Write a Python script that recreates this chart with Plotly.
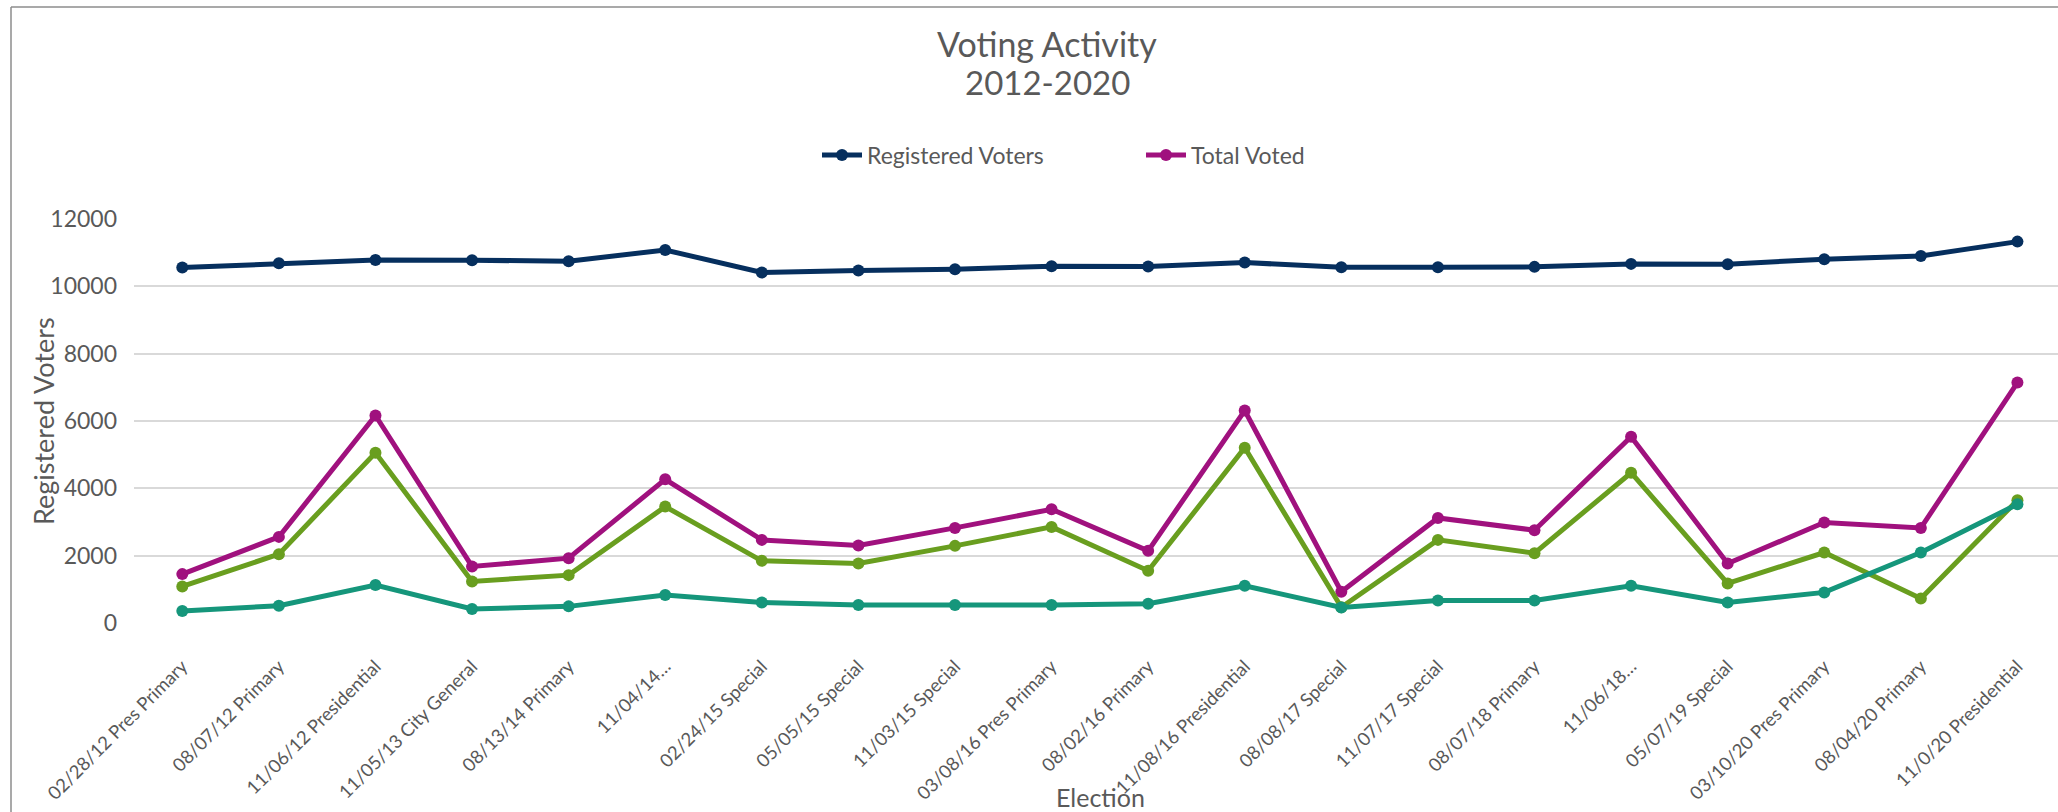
import plotly.graph_objects as go

categories = [
    "02/28/12 Pres Primary", "08/07/12 Primary", "11/06/12 Presidential",
    "11/05/13 City General", "08/13/14 Primary", "11/04/14…",
    "02/24/15 Special", "05/05/15 Special", "11/03/15 Special",
    "03/08/16 Pres Primary", "08/02/16 Primary", "11/08/16 Presidential",
    "08/08/17 Special", "11/07/17 Special", "08/07/18 Primary",
    "11/06/18…", "05/07/19 Special", "03/10/20 Pres Primary",
    "08/04/20 Primary", "11/0/20 Presidential",
]
registered_voters = [10557, 10687, 10785, 10775, 10746, 11080, 10410, 10469, 10509, 10598,
                     10588, 10706, 10568, 10568, 10578, 10667, 10657, 10805, 10904, 11328]
total_voted = [1452, 2558, 6163, 1679, 1926, 4267, 2469, 2301, 2825, 3378,
               2143, 6311, 930, 3121, 2756, 5531, 1768, 2983, 2825, 7141]
voted_in_person = [1086, 2044, 5057, 1235, 1422, 3457, 1847, 1768, 2291, 2854,
                   1551, 5205, 470, 2469, 2074, 4464, 1175, 2094, 731, 3645]
voted_absentee = [356, 514, 1126, 415, 494, 830, 612, 533, 533, 533,
                  573, 1106, 460, 671, 671, 1106, 612, 909, 2094, 3526]
y_ticks = [0, 2000, 4000, 6000, 8000, 10000, 12000]
y_tick_labels = ["0", "2000", "4000", "6000", "8000", "10000", "12000"]
title_lines = ["Voting Activity", "2012-2020"]

FONT = "Lato"
GRAY = "#595959"
W, H = 2058, 812
L, R_EDGE, T, B0 = 134, 2058, 219, 623  # plot area pixel bounds
PW, PH = R_EDGE - L, B0 - T

series = [
    ("Registered Voters", registered_voters, "#062F5E", True, "legend"),
    ("Total Voted", total_voted, "#A0117E", True, "legend2"),
    ("Voted In Person", voted_in_person, "#699E1F", False, "legend"),
    ("Voted Absentee", voted_absentee, "#15967B", False, "legend"),
]

fig = go.Figure()
for name, vals, color, show, lg in series:
    fig.add_trace(go.Scatter(
        x=list(range(len(categories))), y=vals, name=name, mode="lines+markers",
        line=dict(color=color, width=5),
        marker=dict(color=color, size=12, symbol="circle"),
        showlegend=show, legend=lg,
    ))

fig.update_layout(
    width=W, height=H,
    margin=dict(l=L, r=W - R_EDGE, t=T, b=H - B0, autoexpand=False),
    paper_bgcolor="white", plot_bgcolor="white",
    font=dict(family=FONT, color=GRAY, size=23),
    xaxis=dict(
        range=[-0.5, 19.42], tickmode="array", tickvals=list(range(len(categories))),
        ticktext=categories, tickangle=-45, showgrid=False, zeroline=False,
        showline=False, ticks="", ticklabelstandoff=28,
        tickfont=dict(family=FONT, size=18.5, color=GRAY),
    ),
    yaxis=dict(
        range=[0, 12000], tickmode="array", tickvals=y_ticks, ticktext=y_tick_labels,
        showgrid=True, gridcolor="#D9D9D9",
        gridwidth=1.5, zeroline=False, showline=False, ticks="",
        ticklabelstandoff=16, tickfont=dict(family=FONT, size=23, color=GRAY),
    ),
    legend=dict(orientation="h", xref="container", yref="container",
                x=817 / W, y=1 - 155 / H, xanchor="left", yanchor="middle",
                bgcolor="rgba(0,0,0,0)", font=dict(family=FONT, size=23, color=GRAY),
                itemwidth=40),
    legend2=dict(orientation="h", xref="container", yref="container",
                 x=1141 / W, y=1 - 155 / H, xanchor="left", yanchor="middle",
                 bgcolor="rgba(0,0,0,0)", font=dict(family=FONT, size=23, color=GRAY),
                 itemwidth=40),
    showlegend=True,
)

# title (two lines)
for line, yc, sz in zip(title_lines, [43, 82], [34, 33]):
    fig.add_annotation(text=line, xref="paper", yref="paper",
                       x=(1047 - L) / PW, y=(B0 - yc) / PH, showarrow=False,
                       xanchor="center", yanchor="middle",
                       font=dict(family=FONT, size=sz, color=GRAY))

# axis titles
fig.add_annotation(text="Registered Voters", xref="paper", yref="paper",
                   x=(43 - L) / PW, y=0.5, textangle=-90, showarrow=False,
                   xanchor="center", yanchor="middle",
                   font=dict(family=FONT, size=27, color=GRAY))
fig.add_annotation(text="Election", xref="paper", yref="paper",
                   x=(1100 - L) / PW, y=(B0 - 797) / PH, showarrow=False,
                   xanchor="center", yanchor="middle",
                   font=dict(family=FONT, size=25, color=GRAY))

# chart-area border (left and top visible)
bx = (11 - L) / PW
by = (B0 - 7) / PH
fig.add_shape(type="line", xref="paper", yref="paper", x0=bx, x1=bx, y0=-1, y1=by,
              line=dict(color="#8C8C8C", width=1.5))
fig.add_shape(type="line", xref="paper", yref="paper", x0=bx, x1=1.2, y0=by, y1=by,
              line=dict(color="#8C8C8C", width=1.5))

fig.write_html(
    "out.html",
    config={"displayModeBar": False},
    post_script="document.body.style.margin='0px';document.body.style.overflow='hidden';",
)
